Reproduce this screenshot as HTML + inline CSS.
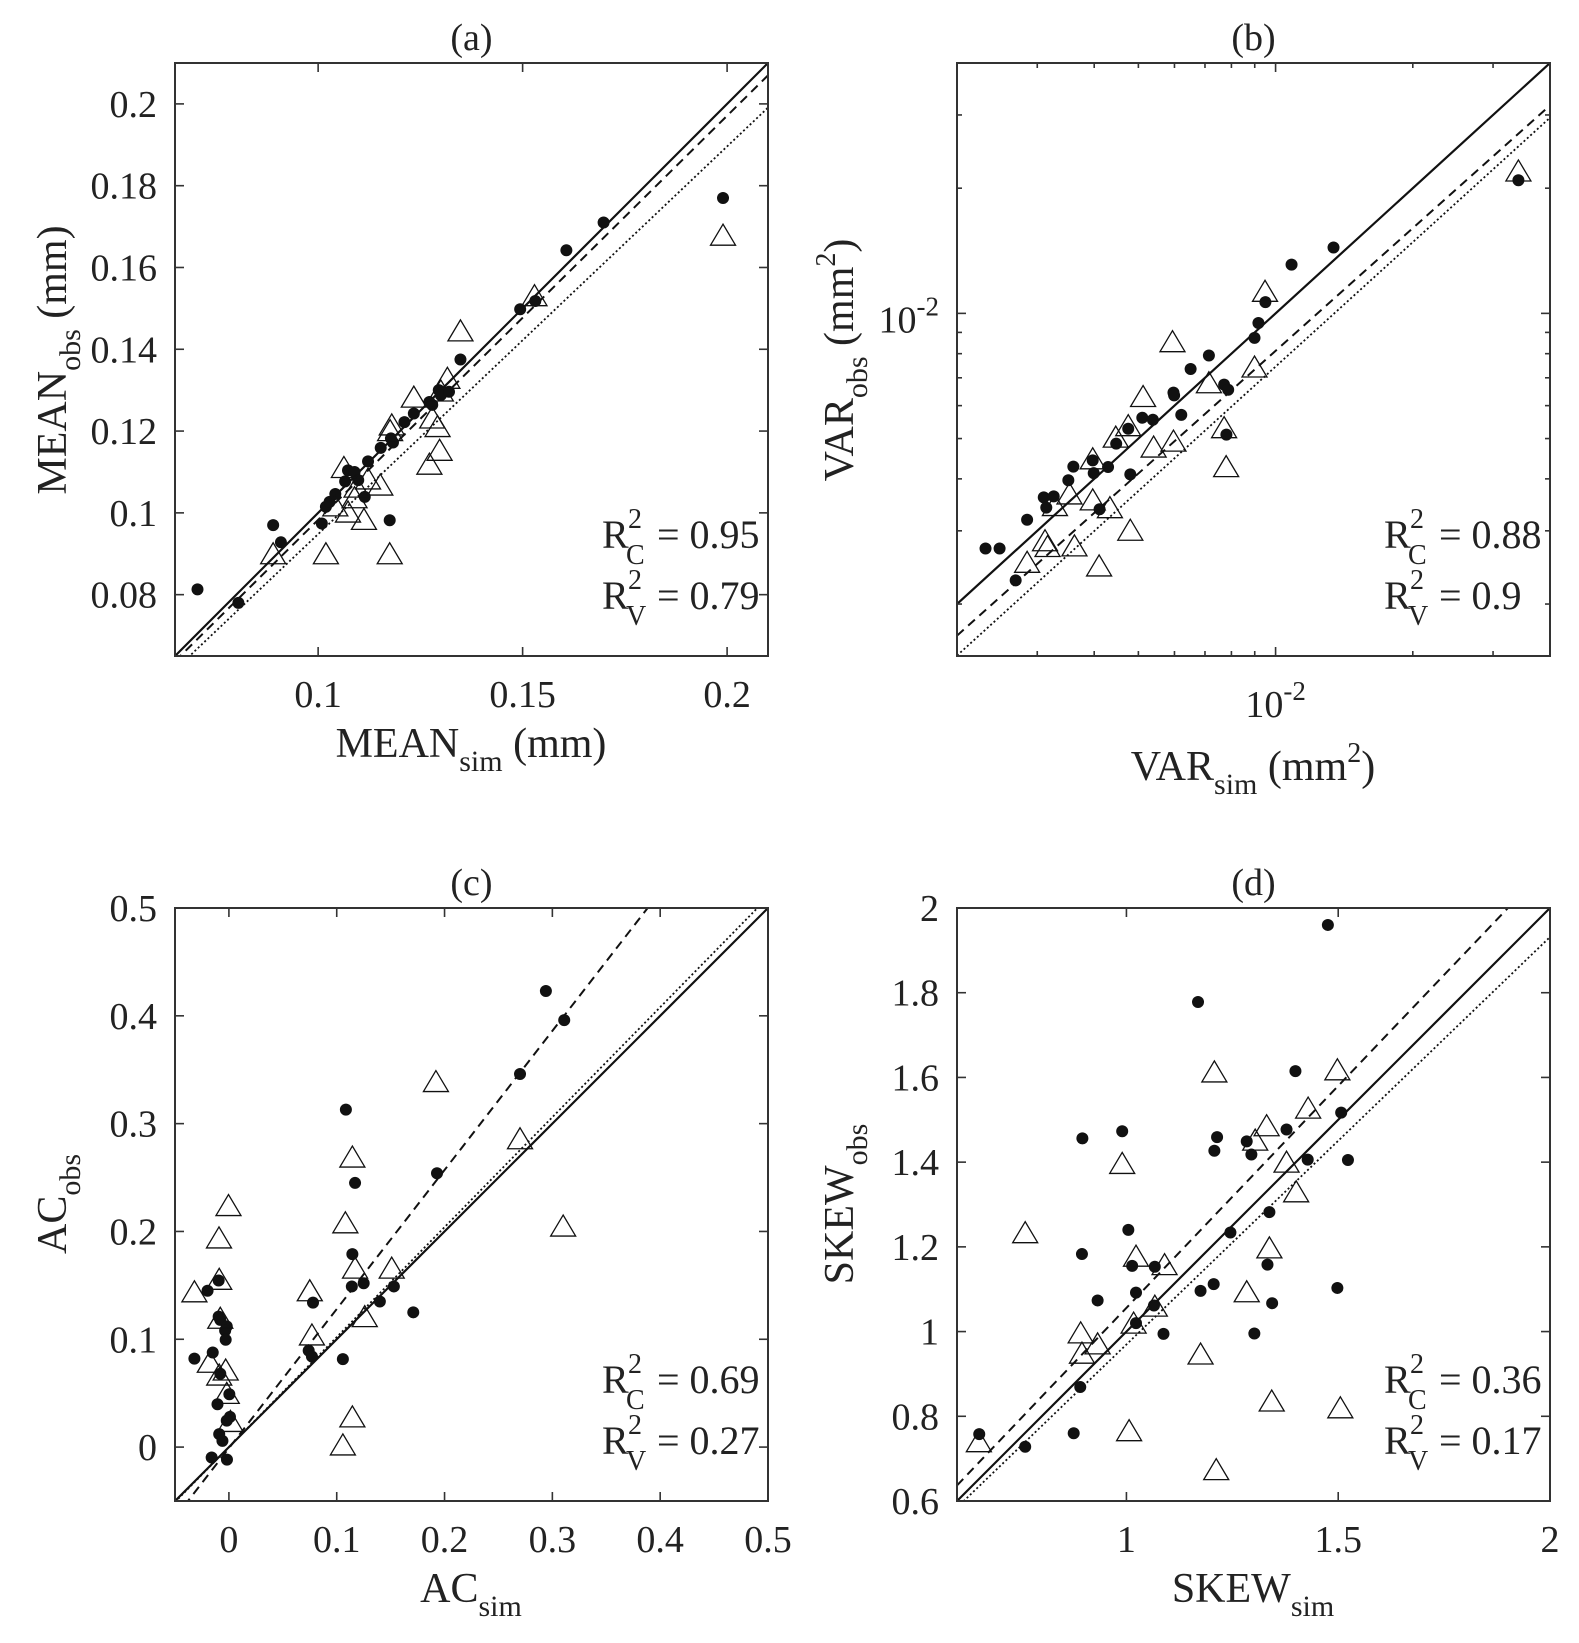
<!DOCTYPE html>
<html><head><meta charset="utf-8"><title>Scatter comparison</title>
<style>
html,body{margin:0;padding:0;background:#fff;}
svg{display:block;font-family:"Liberation Serif","DejaVu Serif",serif;}
svg text{font-family:"Liberation Serif","DejaVu Serif",serif;}
</style></head>
<body>
<svg id="fig" width="1579" height="1643" viewBox="0 0 1579 1643" xmlns="http://www.w3.org/2000/svg">
<rect x="0" y="0" width="1579" height="1643" fill="#fff"/>
<text x="471" y="757" font-size="42" text-anchor="middle" fill="#222">MEAN<tspan font-size="30" dy="14">sim</tspan><tspan dy="-14"> (mm)</tspan></text>
<text transform="translate(66,360) rotate(-90)" font-size="42" text-anchor="middle" fill="#222">MEAN<tspan font-size="30" dy="14">obs</tspan><tspan dy="-14"> (mm)</tspan></text>
<text x="1253" y="780" font-size="42" text-anchor="middle" fill="#222">VAR<tspan font-size="30" dy="14">sim</tspan><tspan dy="-14"> (mm</tspan><tspan font-size="28" dy="-18">2</tspan><tspan dy="18">)</tspan></text>
<text transform="translate(853,360) rotate(-90)" font-size="42" text-anchor="middle" fill="#222">VAR<tspan font-size="30" dy="14">obs</tspan><tspan dy="-14"> (mm</tspan><tspan font-size="28" dy="-18">2</tspan><tspan dy="18">)</tspan></text>
<text x="471" y="1602" font-size="42" text-anchor="middle" fill="#222">AC<tspan font-size="30" dy="14">sim</tspan></text>
<text transform="translate(66,1204) rotate(-90)" font-size="42" text-anchor="middle" fill="#222">AC<tspan font-size="30" dy="14">obs</tspan></text>
<text x="1253" y="1602" font-size="42" text-anchor="middle" fill="#222">SKEW<tspan font-size="30" dy="14">sim</tspan></text>
<text transform="translate(853,1204) rotate(-90)" font-size="42" text-anchor="middle" fill="#222">SKEW<tspan font-size="30" dy="14">obs</tspan></text>
</svg>
<script>
// ---------- Panel (a) MEAN ----------
const aDotX=[0.0705,0.0805,0.089,0.0909,0.1009,0.1019,0.1028,0.1042,0.1066,0.1073,0.1089,0.1098,0.1114,0.1122,0.1153,0.1178,0.1183,0.1175,0.1211,0.1234,0.1272,0.1279,0.1295,0.1300,0.1320,0.1348,0.1494,0.1531,0.1607,0.1698,0.1990];
const aDotY=[0.0813,0.0780,0.0970,0.0928,0.0974,0.1015,0.1027,0.1046,0.1077,0.1104,0.1100,0.1080,0.1039,0.1126,0.1159,0.1182,0.1172,0.0982,0.1222,0.1243,0.1271,0.1264,0.1300,0.1288,0.1296,0.1375,0.1498,0.1518,0.1642,0.1710,0.1770];
const aTriX=[0.089,0.1019,0.1175,0.1063,0.1042,0.1073,0.1089,0.1094,0.1112,0.1122,0.1152,0.1176,0.1180,0.1234,0.1272,0.1279,0.1292,0.1297,0.1316,0.1300,0.1348,0.1529,0.1990];
const aTriY=[0.090,0.090,0.090,0.1111,0.1017,0.1002,0.1037,0.1063,0.0984,0.1083,0.1068,0.1201,0.1215,0.1283,0.1119,0.1232,0.1211,0.1153,0.1329,0.1298,0.1445,0.1531,0.1679];
const aDashed=[-0.0005,0.988];
const aDotted=[0.0,0.948];
const aXTicks=[0.1,0.15,0.2];
const aXTickLabels=['0.1','0.15','0.2'];
const aYTicks=[0.08,0.1,0.12,0.14,0.16,0.18,0.2];
const aYTickLabels=['0.08','0.1','0.12','0.14','0.16','0.18','0.2'];
const aR2=['0.95','0.79'];

// ---------- Panel (b) VAR (log-log) ----------
const bDotX=[2.31e-3,2.48e-3,2.69e-3,2.85e-3,3.10e-3,3.14e-3,3.26e-3,3.51e-3,3.60e-3,3.97e-3,3.99e-3,4.11e-3,4.29e-3,4.47e-3,4.75e-3,4.80e-3,5.10e-3,5.38e-3,5.97e-3,5.99e-3,6.21e-3,6.51e-3,7.14e-3,7.71e-3,7.87e-3,7.80e-3,8.99e-3,9.17e-3,9.50e-3,1.084e-2,1.34e-2,3.41e-2];
const bDotY=[2.72e-3,2.72e-3,2.28e-3,3.19e-3,3.61e-3,3.41e-3,3.63e-3,3.97e-3,4.28e-3,4.43e-3,4.13e-3,3.38e-3,4.27e-3,4.86e-3,5.28e-3,4.10e-3,5.61e-3,5.55e-3,6.45e-3,6.35e-3,5.70e-3,7.35e-3,7.92e-3,6.74e-3,6.55e-3,5.11e-3,8.73e-3,9.48e-3,1.064e-2,1.31e-2,1.44e-2,2.09e-2];
const bTriX=[2.85e-3,3.12e-3,3.16e-3,3.28e-3,3.53e-3,3.62e-3,3.97e-3,3.97e-3,4.10e-3,4.33e-3,4.46e-3,4.75e-3,4.80e-3,5.12e-3,5.40e-3,5.94e-3,5.97e-3,7.14e-3,7.71e-3,7.79e-3,8.99e-3,9.48e-3,3.41e-2];
const bTriY=[2.52e-3,2.84e-3,2.75e-3,3.45e-3,3.68e-3,2.76e-3,4.47e-3,3.56e-3,2.47e-3,3.41e-3,5.04e-3,5.37e-3,3.01e-3,6.31e-3,4.77e-3,8.55e-3,4.93e-3,6.81e-3,5.31e-3,4.28e-3,7.43e-3,1.13e-2,2.20e-2];
const bDashed=[-0.130,0.980];   // log10(y) = c + m*log10(x)
const bDotted=[-0.140,0.994];
const bMajorTicks=[0.01];
const bMajorTickLabels=['10','-2'];
const bMinorTicksX=[0.002,0.003,0.004,0.005,0.006,0.007,0.008,0.009,0.02,0.03];
const bMinorTicksY=[0.002,0.003,0.004,0.005,0.006,0.007,0.008,0.009,0.02,0.03];
const bR2=['0.88','0.9'];

// ---------- Panel (c) AC ----------
const cDotX=[0.294,0.311,0.270,0.1085,0.193,0.117,0.1145,-0.0095,-0.0198,0.114,0.125,0.153,0.140,0.078,0.171,-0.0095,-0.008,-0.002,-0.0035,-0.003,0.074,0.077,-0.032,-0.015,0.1057,-0.008,0.0004,-0.0106,0.001,-0.002,-0.009,-0.006,-0.016,-0.0018];
const cDotY=[0.423,0.396,0.346,0.313,0.254,0.245,0.179,0.1545,0.145,0.149,0.152,0.149,0.135,0.134,0.125,0.121,0.118,0.112,0.108,0.0996,0.0895,0.084,0.082,0.0877,0.0816,0.068,0.049,0.0397,0.028,0.0245,0.012,0.0058,-0.0097,-0.0116];
const cTriX=[0.192,0.270,0.1145,0.310,0.108,-0.0004,-0.0092,-0.032,-0.009,0.117,0.151,0.075,-0.008,0.126,0.077,-0.0177,-0.003,-0.009,-0.002,0.0014,0.1145,0.1057];
const cTriY=[0.339,0.286,0.269,0.205,0.208,0.224,0.194,0.144,0.1556,0.166,0.166,0.145,0.1195,0.121,0.104,0.0787,0.0715,0.0668,0.0498,0.0238,0.028,0.002];
const cDashed=[-0.001,1.290];
const cDotted=[0.0,1.02];
const cXTicks=[0,0.1,0.2,0.3,0.4,0.5];
const cXTickLabels=['0','0.1','0.2','0.3','0.4','0.5'];
const cYTicks=[0,0.1,0.2,0.3,0.4,0.5];
const cYTickLabels=['0','0.1','0.2','0.3','0.4','0.5'];
const cR2=['0.69','0.27'];

// ---------- Panel (d) SKEW ----------
const dDotX=[1.4756,1.169,1.399,1.507,0.990,0.896,1.214,1.2076,1.284,1.295,1.378,1.428,1.523,1.3375,1.2455,1.0045,0.895,1.0135,1.067,1.333,1.206,1.175,1.0226,1.498,0.932,1.344,1.065,1.0226,1.0875,1.302,0.891,0.6525,0.8755,0.761];
const dDotY=[1.960,1.778,1.615,1.517,1.473,1.456,1.459,1.427,1.449,1.418,1.477,1.406,1.405,1.282,1.234,1.240,1.183,1.155,1.153,1.158,1.112,1.096,1.092,1.103,1.0735,1.067,1.0616,1.020,0.9945,0.9954,0.869,0.758,0.760,0.728];
const dTriX=[1.2076,1.498,1.429,1.331,1.304,1.378,0.990,1.4007,0.761,1.3375,1.0226,1.090,1.284,1.067,1.017,0.892,0.932,0.895,1.175,1.343,1.505,1.0063,0.6516,1.212];
const dTriY=[1.613,1.618,1.5276,1.486,1.452,1.400,1.397,1.330,1.2335,1.1976,1.178,1.158,1.094,1.060,1.020,0.997,0.971,0.949,0.947,0.836,0.820,0.766,0.740,0.674];
const dDashed=[0.008,1.048];
const dDotted=[0.0075,0.962];
const dXTicks=[1,1.5,2];
const dXTickLabels=['1','1.5','2'];
const dYTicks=[0.6,0.8,1,1.2,1.4,1.6,1.8,2];
const dYTickLabels=['0.6','0.8','1','1.2','1.4','1.6','1.8','2'];
const dR2=['0.36','0.17'];

const NS='http://www.w3.org/2000/svg';
const svg=document.getElementById('fig');
const S=593;
function mk(tag,attrs,parent){const e=document.createElementNS(NS,tag);for(const k in attrs)e.setAttribute(k,attrs[k]);(parent||svg).appendChild(e);return e;}

function makeScale(min,max,start,len,log,invert){
  const f=log?Math.log10:(v=>v);
  const a=f(min),b=f(max);
  return v=>invert? start+len-(f(v)-a)/(b-a)*len : start+(f(v)-a)/(b-a)*len;
}

function drawPanel(p){
  const g=mk('g',{});
  
  
  const sx=makeScale(p.xr[0],p.xr[1],p.x0,S,p.log,false);
  const sy=makeScale(p.yr[0],p.yr[1],p.y0,S,p.log,true);
  const cid='clip-'+p.id;
  const cp=mk('clipPath',{id:cid},g);
  mk('rect',{x:p.x0,y:p.y0,width:S,height:S},cp);
  const t=mk('text',{x:p.x0+S/2,y:p.y0-13,'font-size':38,'text-anchor':'middle',fill:'#222'},g);
  t.textContent='('+p.id+')';
  
  
  const lg=mk('g',{'clip-path':'url(#'+cid+')'},g);
  const lines=[[[0,1],'none','solid-1to1-line',2.2],[p.dashed,'9,6','dashed-fit-line',2],[p.dotted,'2,2.5','dotted-fit-line',1.8]];
  lines.forEach(([ab,dash,name,w])=>{
    let x1=p.xr[0],x2=p.xr[1],y1,y2;
    if(p.log){y1=Math.pow(10,ab[0]+ab[1]*Math.log10(x1));y2=Math.pow(10,ab[0]+ab[1]*Math.log10(x2));}
    else{y1=ab[0]+ab[1]*x1;y2=ab[0]+ab[1]*x2;}
    const ln=mk('line',{x1:sx(x1),y1:sy(y1),x2:sx(x2),y2:sy(y2),stroke:'#111','stroke-width':w,'stroke-dasharray':dash},lg);
    
    
  });
  const mg=mk('g',{},g);
  p.dotX.forEach((v,i)=>{
    const c=mk('circle',{cx:sx(v),cy:sy(p.dotY[i]),r:6,fill:'#111'},mg);
    
    
  });
  p.triX.forEach((v,i)=>{
    const x=sx(v),y=sy(p.triY[i]);
    const tr=mk('polygon',{points:`${x},${y-11} ${x-12.5},${y+10} ${x+12.5},${y+10}`,fill:'none',stroke:'#111','stroke-width':1.3},mg);
    
    
  });
  const box=mk('rect',{x:p.x0,y:p.y0,width:S,height:S,fill:'none',stroke:'#333','stroke-width':2},g);
  
  
  const tk=(x1,y1,x2,y2)=>mk('line',{x1,y1,x2,y2,stroke:'#333','stroke-width':1.6},g);
  const xb=p.y0+S, yl=p.x0, yr=p.x0+S, xt=p.y0;
  p.xMajor.forEach(v=>{const x=sx(v);tk(x,xb,x,xb-9);tk(x,xt,x,xt+9);});
  p.yMajor.forEach(v=>{const y=sy(v);tk(yl,y,yl+9,y);tk(yr,y,yr-9,y);});
  (p.xMinor||[]).forEach(v=>{const x=sx(v);tk(x,xb,x,xb-5);tk(x,xt,x,xt+5);});
  (p.yMinor||[]).forEach(v=>{const y=sy(v);tk(yl,y,yl+5,y);tk(yr,y,yr-5,y);});
  if(p.log){
    const lx=mk('text',{x:sx(p.xMajor[0]),y:xb+61,'font-size':38,'text-anchor':'middle',fill:'#222'},g);
    lx.innerHTML=p.logLabel[0]+'<tspan font-size="27" dy="-17">'+p.logLabel[1]+'</tspan>';
    
    
    const ly=mk('text',{x:p.x0-18,y:sy(p.yMajor[0])+19,'font-size':38,'text-anchor':'end',fill:'#222'},g);
    ly.innerHTML=p.logLabel[0]+'<tspan font-size="27" dy="-17">'+p.logLabel[1]+'</tspan>';
    
    
  } else {
    p.xMajor.forEach((v,i)=>{
      const l=mk('text',{x:sx(v),y:xb+51,'font-size':38,'text-anchor':'middle',fill:'#222'},g);
      l.textContent=p.xLabels[i];
      
      
    });
    p.yMajor.forEach((v,i)=>{
      const l=mk('text',{x:p.x0-18,y:sy(v)+13,'font-size':38,'text-anchor':'end',fill:'#222'},g);
      l.textContent=p.yLabels[i];
      
      
    });
  }
  ['C','V'].forEach((sub,i)=>{
    const yb=p.y0+S-108+i*61;
    const ag=mk('g',{fill:'#222'},g);
    
    
    mk('text',{x:p.x0+427,y:yb,'font-size':40},ag).textContent='R';
    mk('text',{x:p.x0+453,y:yb-20,'font-size':28},ag).textContent='2';
    mk('text',{x:p.x0+451,y:yb+16,'font-size':28},ag).textContent=sub;
    mk('text',{x:p.x0+482,y:yb,'font-size':40},ag).textContent='= '+p.r2[i];
  });
}

drawPanel({id:'a',x0:175,y0:63,xr:[0.065,0.21],yr:[0.065,0.21],log:false,dotX:aDotX,dotY:aDotY,triX:aTriX,triY:aTriY,dashed:aDashed,dotted:aDotted,xMajor:aXTicks,xLabels:aXTickLabels,yMajor:aYTicks,yLabels:aYTickLabels,r2:aR2});
drawPanel({id:'b',x0:957,y0:63,xr:[0.002,0.04],yr:[0.0015,0.04],log:true,dotX:bDotX,dotY:bDotY,triX:bTriX,triY:bTriY,dashed:bDashed,dotted:bDotted,xMajor:bMajorTicks,yMajor:bMajorTicks,xMinor:bMinorTicksX,yMinor:bMinorTicksY,logLabel:bMajorTickLabels,r2:bR2});
drawPanel({id:'c',x0:175,y0:908,xr:[-0.05,0.5],yr:[-0.05,0.5],log:false,dotX:cDotX,dotY:cDotY,triX:cTriX,triY:cTriY,dashed:cDashed,dotted:cDotted,xMajor:cXTicks,xLabels:cXTickLabels,yMajor:cYTicks,yLabels:cYTickLabels,r2:cR2});
drawPanel({id:'d',x0:957,y0:908,xr:[0.6,2],yr:[0.6,2],log:false,dotX:dDotX,dotY:dDotY,triX:dTriX,triY:dTriY,dashed:dDashed,dotted:dDotted,xMajor:dXTicks,xLabels:dXTickLabels,yMajor:dYTicks,yLabels:dYTickLabels,r2:dR2});
</script>
</body></html>
